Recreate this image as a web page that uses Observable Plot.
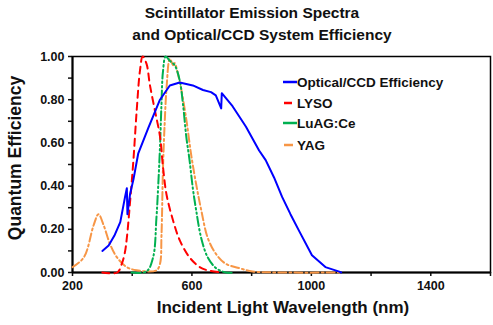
<!DOCTYPE html>
<html><head><meta charset="utf-8">
<script src="https://cdn.jsdelivr.net/npm/d3@7"></script>
<script src="https://cdn.jsdelivr.net/npm/@observablehq/plot@0.6"></script>
<style>
body{margin:0;background:#fff;font-family:"Liberation Sans",Arial,sans-serif;}
#wrap{position:relative;width:493px;height:325px;background:#fff;overflow:hidden}
.t{position:absolute;font-weight:bold;color:#111;white-space:nowrap}
.leg{position:absolute;left:283px;font-weight:bold;font-size:13.5px;color:#111;display:flex;align-items:center;height:16px}
.leg svg{display:block}
</style></head>
<body><div id="wrap"></div>
<script>
// Optical/CCD system efficiency
const ccdNm = [300,321,340,360,376,382,384,393,404,420,454,493,526,559,603,637,664,680,698,700,736,781,825,847,875,902,930,958,1002,1047,1091,1100];
const ccdQE = [0.10,0.125,0.17,0.233,0.35,0.39,0.27,0.365,0.43,0.55,0.67,0.80,0.866,0.88,0.866,0.845,0.835,0.82,0.76,0.83,0.77,0.675,0.565,0.52,0.44,0.35,0.27,0.195,0.08,0.025,0.005,0];
// LYSO emission
const lysoNm = [300,350,365,375,382,393,404,415,426,435,448,459,476,493,503,515,537,559,592,626,653,700];
const lysoQE = [0,0,0.04,0.09,0.16,0.33,0.52,0.75,0.935,1.0,0.966,0.87,0.75,0.63,0.49,0.36,0.24,0.15,0.07,0.025,0.01,0];
// LuAG:Ce emission
const luagNm = [398,448,470,481,487,493,498,503,512,526,542,559,570,581,592,603,614,631,653,681,714,740];
const luagQE = [0,0.005,0.07,0.25,0.40,0.58,0.78,0.93,1.0,0.98,0.96,0.89,0.78,0.63,0.52,0.39,0.29,0.16,0.07,0.02,0,0];
// YAG emission
const yagNm = [200,238,271,287,304,326,349,382,415,481,493,498,503,509,515,526,537,542,553,564,581,598,614,631,653,681,714,759,803,900,1100];
const yagQE = [0.025,0.07,0.22,0.27,0.22,0.13,0.07,0.025,0.01,0.01,0.04,0.17,0.48,0.70,0.855,0.99,0.96,0.97,0.92,0.85,0.71,0.54,0.41,0.29,0.16,0.085,0.04,0.02,0.005,0,0];

const xTicks = [200,400,600,800,1000,1200,1400,1600];
const xLabels = [200,600,1000,1400];
const yTicks = [0,0.1,0.2,0.3,0.4,0.5,0.6,0.7,0.8,0.9,1.0];
const yLabels = [0,0.2,0.4,0.6,0.8,1.0];

const seriesNames = ["Optical/CCD Efficiency","LYSO","LuAG:Ce","YAG"];
const colors = ["#0000ff","#ff0000","#00b050","#f79646"];
const dashes = [null,"7,5","9,3,1.5,3,1.5,3","8,3,2,3"];

const mk = (nm, qe) => nm.map((x,i)=>({x, y: qe[i]}));
const sets = [mk(ccdNm,ccdQE), mk(lysoNm,lysoQE), mk(luagNm,luagQE), mk(yagNm,yagQE)];

const fmt = d3.format(".2f");
const chart = Plot.plot({
  width: 493, height: 325,
  marginLeft: 72, marginRight: 3, marginTop: 56, marginBottom: 53,
  style: {fontFamily: '"Liberation Sans", Arial, sans-serif', fontWeight: "bold", fontSize: "12.5px", color: "#111", background: "white"},
  x: {domain: [200,1600]},
  y: {domain: [0,1]},
  marks: [
    Plot.frame({stroke: "#000", strokeWidth: 1.5}),
    Plot.axisX({ticks: xTicks, tickSize: 4, tickPadding: 5, tickFormat: d => xLabels.includes(d) ? String(d) : "", label: null, strokeWidth: 1.5}),
    Plot.axisY({ticks: yTicks, tickSize: 4, tickPadding: 4, tickFormat: d => yLabels.some(v=>Math.abs(v-d)<1e-9) ? fmt(d) : "", label: null, strokeWidth: 1.5}),
    Plot.ruleY([0], {stroke: "#000", strokeWidth: 2}),
    Plot.ruleX([200], {stroke: "#000", strokeWidth: 2}),
    ...[3,2,1,0].map(i => Plot.line(sets[i], {x:"x", y:"y", stroke: colors[i], strokeWidth: 2, strokeDasharray: dashes[i], curve: i===0 ? "linear" : "catmull-rom"}))
  ]
});
const wrap = document.getElementById("wrap");
wrap.appendChild(chart);

function addText(txt, css){ const d=document.createElement("div"); d.className="t"; d.textContent=txt; Object.assign(d.style, css); wrap.appendChild(d); return d; }
addText("Scintillator Emission Spectra", {left:"252px", top:"4px", fontSize:"15.5px", transform:"translateX(-50%)"});
addText("and Optical/CCD System Efficiency", {left:"262px", top:"26px", fontSize:"15.5px", transform:"translateX(-50%)"});
addText("Incident Light Wavelength (nm)", {left:"283px", top:"298px", fontSize:"17px", transform:"translateX(-50%)"});
addText("Quantum Efficiency", {left:"15px", top:"158px", fontSize:"17.5px", transform:"translate(-50%,-50%) rotate(-90deg)"});

const legY = [74, 95, 115, 137];
const swW = [14, 8, 14, 9];
seriesNames.forEach((n,i)=>{
  const d = document.createElement("div"); d.className="leg"; d.style.top = legY[i]+"px";
  const ns="http://www.w3.org/2000/svg";
  const s=document.createElementNS(ns,"svg"); s.setAttribute("width",14); s.setAttribute("height",16);
  const l=document.createElementNS(ns,"line"); l.setAttribute("x1", swW[i]===14?0:1); l.setAttribute("x2", swW[i]===14?14:1+swW[i]); l.setAttribute("y1",8); l.setAttribute("y2",8);
  l.setAttribute("stroke",colors[i]); l.setAttribute("stroke-width",2.5);
  s.appendChild(l); d.appendChild(s);
  const sp=document.createElement("span"); sp.textContent = n; sp.style.whiteSpace="pre"; d.appendChild(sp);
  wrap.appendChild(d);
});
</script></body></html>
